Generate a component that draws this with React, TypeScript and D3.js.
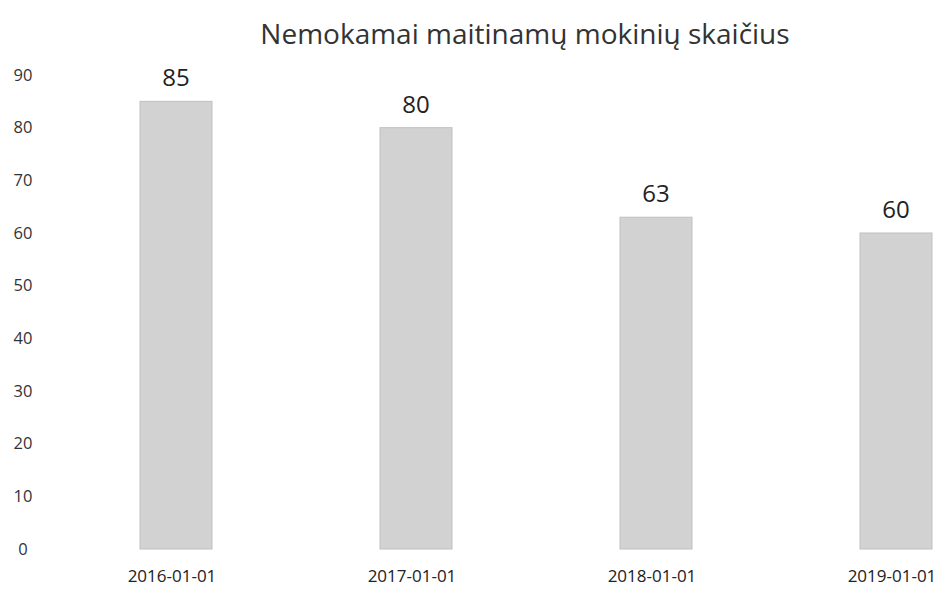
import React from 'react';
import * as d3 from 'd3';

const categories = ['2016-01-01', '2017-01-01', '2018-01-01', '2019-01-01'];
const values = [85, 80, 63, 60];
const yTicks = [0, 10, 20, 30, 40, 50, 60, 70, 80, 90];
const title = 'Nemokamai maitinamų mokinių skaičius';

const W = 947;
const H = 591;

const App = () => {
  const x = d3
    .scaleBand<string>()
    .domain(categories)
    .range([56, 1016])
    .paddingInner(0.7)
    .paddingOuter(0.35);

  const y = d3.scaleLinear().domain([0, 90]).range([549, 75]);

  const font = '"Open Sans", Lato, sans-serif';

  return (
    <svg
      width={W}
      height={H}
      style={{ position: 'absolute', left: 0, top: 0, background: '#fff' }}
      fontFamily={font}
    >
      <text x={525} y={44} textAnchor="middle" fontSize={28} fill="#333">
        {title}
      </text>
      {yTicks.map((t) => (
        <text
          key={t}
          x={23}
          y={y(t)}
          dy="0.35em"
          textAnchor="middle"
          fontSize={16.5}
          fill="#333"
        >
          {t}
        </text>
      ))}
      {categories.map((c, i) => (
        <g key={c}>
          <rect
            x={x(c)}
            y={y(values[i])}
            width={x.bandwidth()}
            height={y(0) - y(values[i])}
            fill="#d2d2d2"
            stroke="#c0c0c0"
            strokeWidth={1}
          />
          <text
            x={(x(c) as number) + x.bandwidth() / 2}
            y={y(values[i]) - 15}
            textAnchor="middle"
            fontSize={24}
            fill="#222"
          >
            {values[i]}
          </text>
          <text
            x={(x(c) as number) + x.bandwidth() / 2 - 4}
            y={582}
            textAnchor="middle"
            fontSize={17}
            fill="#222"
          >
            {c}
          </text>
        </g>
      ))}
    </svg>
  );
};

export default App;
